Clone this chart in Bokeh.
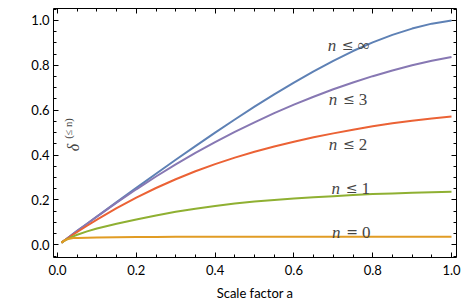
import math
from bokeh.plotting import figure
from bokeh.models import (Range1d, LinearAxis, SingleIntervalTicker, PrintfTickFormatter,
                          Label, CustomLabelingPolicy)
from bokeh.embed import file_html
from bokeh.resources import INLINE

a_vals = [0.01, 0.02, 0.03, 0.04, 0.05, 0.075, 0.10, 0.15, 0.20, 0.25, 0.30, 0.35,
          0.40, 0.45, 0.50, 0.55, 0.60, 0.65, 0.70, 0.75, 0.80, 0.85, 0.90, 0.95, 1.00]
d_inf = [0.01, 0.023, 0.036, 0.049, 0.062, 0.094, 0.1265, 0.1905, 0.254, 0.317, 0.379, 0.440,
         0.500, 0.5585, 0.6155, 0.6705, 0.723, 0.773, 0.820, 0.8635, 0.902, 0.9355, 0.9635,
         0.9855, 1.0]
d_3 = [0.01, 0.023, 0.036, 0.049, 0.062, 0.094, 0.126, 0.188, 0.2475, 0.3045, 0.3585, 0.4095,
       0.4575, 0.503, 0.546, 0.5865, 0.6245, 0.660, 0.693, 0.7235, 0.7515, 0.777, 0.800,
       0.820, 0.837]
d_2 = [0.01, 0.022, 0.034, 0.046, 0.0572, 0.085, 0.1122, 0.1632, 0.2102, 0.2532, 0.2922, 0.3277,
       0.3597, 0.3887, 0.4147, 0.4382, 0.4597, 0.4792, 0.4967, 0.5132, 0.5282, 0.5417, 0.5532,
       0.5632, 0.5717]
d_1 = [0.01, 0.021, 0.030, 0.038, 0.045, 0.060, 0.073, 0.094, 0.113, 0.131, 0.147, 0.161,
       0.173, 0.184, 0.193, 0.200, 0.206, 0.212, 0.217, 0.222, 0.226, 0.229, 0.232, 0.234, 0.236]
d_0 = [0.01, 0.022, 0.027, 0.030, 0.031, 0.032, 0.033, 0.034, 0.035, 0.035, 0.036, 0.036,
       0.036, 0.036, 0.036, 0.036, 0.036, 0.036, 0.036, 0.036, 0.036, 0.036, 0.036, 0.036, 0.036]

series = [d_inf, d_3, d_2, d_1, d_0]
colors = ["#5E81B5", "#8778B3", "#EB6235", "#8FB032", "#E19C24"]

# curve labels: relation symbol, right-hand side, anchor (x, baseline y)
lab_rel = ["≤", "≤", "≤", "≤", "="]
lab_rhs = ["∞", "3", "2", "1", "0"]
lab_x = [0.737, 0.740, 0.740, 0.747, 0.748]
lab_y = [0.889, 0.648, 0.448, 0.252, 0.055]

x_axis_label = "Scale factor a"

W, H = 463, 303
p = figure(width=W, height=H, output_backend="svg", toolbar_location=None,
           x_range=Range1d(-0.0102, 1.0127), y_range=Range1d(-0.0564, 1.053),
           x_axis_location=None, y_axis_location=None,
           min_border_left=53, min_border_right=7, min_border_top=8, min_border_bottom=45)
p.xgrid.visible = False
p.ygrid.visible = False
p.outline_line_color = None
p.background_fill_color = "white"
p.border_fill_color = "white"

tick_font = "Lato"
no_labels = CustomLabelingPolicy(
    code="for (let i = 0; i < indices.size; i++) { indices.unset(i) } return indices")


def make_axis(show_labels, axis_label=None, standoff=4):
    ax = LinearAxis(ticker=SingleIntervalTicker(interval=0.2, num_minor_ticks=4),
                    formatter=PrintfTickFormatter(format="%.1f"))
    ax.major_tick_in = 5
    ax.major_tick_out = 0
    ax.minor_tick_in = 3
    ax.minor_tick_out = 0
    ax.axis_line_color = "black"
    ax.axis_line_width = 1
    ax.major_tick_line_color = "black"
    ax.minor_tick_line_color = "black"
    if show_labels:
        ax.major_label_text_font = tick_font
        ax.major_label_text_font_size = "13px"
        ax.major_label_text_color = "black"
        ax.major_label_standoff = standoff
    else:
        ax.major_label_policy = no_labels
        ax.major_label_text_font_size = "1px"
        ax.major_label_standoff = 0
    if axis_label:
        ax.axis_label = axis_label
        ax.axis_label_text_font = tick_font
        ax.axis_label_text_font_size = "13px"
        ax.axis_label_text_font_style = "normal"
        ax.axis_label_text_color = "black"
        ax.axis_label_standoff = 7
    return ax


p.add_layout(make_axis(True, x_axis_label, standoff=7), "below")
p.add_layout(make_axis(True, standoff=4), "left")
p.add_layout(make_axis(False), "above")
p.add_layout(make_axis(False), "right")

for ys, c in zip(series, colors):
    p.line(a_vals, ys, line_color=c, line_width=2)

for rel, rhs, lx, ly in zip(lab_rel, lab_rhs, lab_x, lab_y):
    p.add_layout(Label(x=lx, y=ly, text="n", text_font="Liberation Serif",
                       text_font_style="italic", text_font_size="17px",
                       text_align="center", text_baseline="alphabetic", x_offset=-16))
    p.add_layout(Label(x=lx, y=ly, text=rel, text_font="DejaVu Serif",
                       text_font_size="14px",
                       text_align="center", text_baseline="alphabetic", x_offset=0))
    p.add_layout(Label(x=lx, y=ly, text=rhs, text_font="Liberation Serif",
                       text_font_size="17px",
                       text_align="center", text_baseline="alphabetic",
                       x_offset=16 if rhs == "∞" else 14))

# y axis label: delta with superscript (<= n)
p.add_layout(Label(x=20, y=110, x_units="screen", y_units="screen", text="δ",
                   text_font="Liberation Serif", text_font_style="italic",
                   text_font_size="16px", angle=math.pi / 2,
                   text_align="center", text_baseline="middle"))
p.add_layout(Label(x=15, y=129, x_units="screen", y_units="screen", text="(≤ n)",
                   text_font="Liberation Serif", text_font_size="10.5px",
                   angle=math.pi / 2, text_align="center", text_baseline="middle"))

open("out.html", "w").write(file_html(p, INLINE))
